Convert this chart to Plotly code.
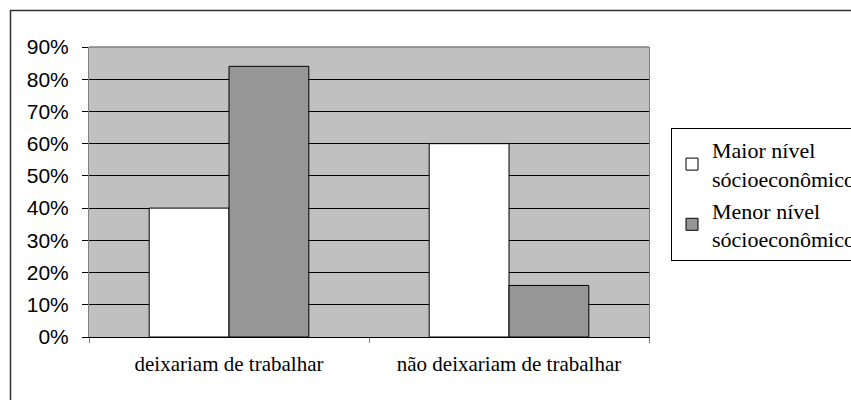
import plotly.graph_objects as go

categories = ["deixariam de trabalhar", "não deixariam de trabalhar"]
series_names = ["Maior nível<br>sócioeconômico", "Menor nível<br>sócioeconômico"]
maior = [40, 60]
menor = [84, 16]
y_ticks = [0, 10, 20, 30, 40, 50, 60, 70, 80, 90]
y_labels = [f"{v}%" for v in y_ticks]

W, H = 851, 400
L, R, T, B = 89, 649, 47, 337

fig = go.Figure()
fig.add_trace(go.Bar(x=categories, y=maior, name=series_names[0],
                     marker=dict(color="white", line=dict(color="black", width=1))))
fig.add_trace(go.Bar(x=categories, y=menor, name=series_names[1],
                     marker=dict(color="#969696", line=dict(color="black", width=1))))

def px_x(p):
    return (p - L) / (R - L)

def px_y(p):
    return (B - p) / (B - T)

fig.update_layout(
    width=W, height=H,
    margin=dict(l=L, r=W - R, t=T, b=H - B, autoexpand=False),
    paper_bgcolor="white",
    plot_bgcolor="#C0C0C0",
    barmode="group",
    bargap=0.43,
    bargroupgap=0,
    showlegend=True,
    legend=dict(
        x=px_x(671), xanchor="left", y=px_y(128), yanchor="top",
        font=dict(family="Liberation Serif", size=22, color="black"),
        bordercolor="black", borderwidth=1, bgcolor="white",
        traceorder="normal", itemwidth=30, tracegroupgap=0,
    ),
    xaxis=dict(
        type="category", tickson="boundaries", ticks="outside", ticklen=5,
        tickcolor="#808080", showline=True, linecolor="black", linewidth=1,
        showgrid=False, ticklabelstandoff=8,
        tickfont=dict(family="Liberation Serif", size=21, color="black"),
    ),
    yaxis=dict(
        range=[0, 90], tickvals=y_ticks, ticktext=y_labels,
        ticks="outside", ticklen=6, tickcolor="black",
        showgrid=True, gridcolor="black", gridwidth=1,
        showline=True, linecolor="#808080", linewidth=1, mirror=True,
        zeroline=False, ticklabelstandoff=9,
        tickfont=dict(family="Liberation Sans", size=21, color="black"),
    ),
    shapes=[
        dict(type="line", xref="paper", yref="paper", x0=0, x1=1, y0=1, y1=1,
             line=dict(color="#808080", width=1.5), layer="above"),
        dict(type="rect", xref="paper", yref="paper",
             x0=px_x(10.5), x1=px_x(870), y0=px_y(10.5), y1=px_y(420),
             line=dict(color="#303030", width=1.5), layer="above"),
    ],
)

fig.write_html("out.html",
               config={"displayModeBar": False},
               post_script="document.body.style.margin='0';document.body.style.overflow='hidden';")
